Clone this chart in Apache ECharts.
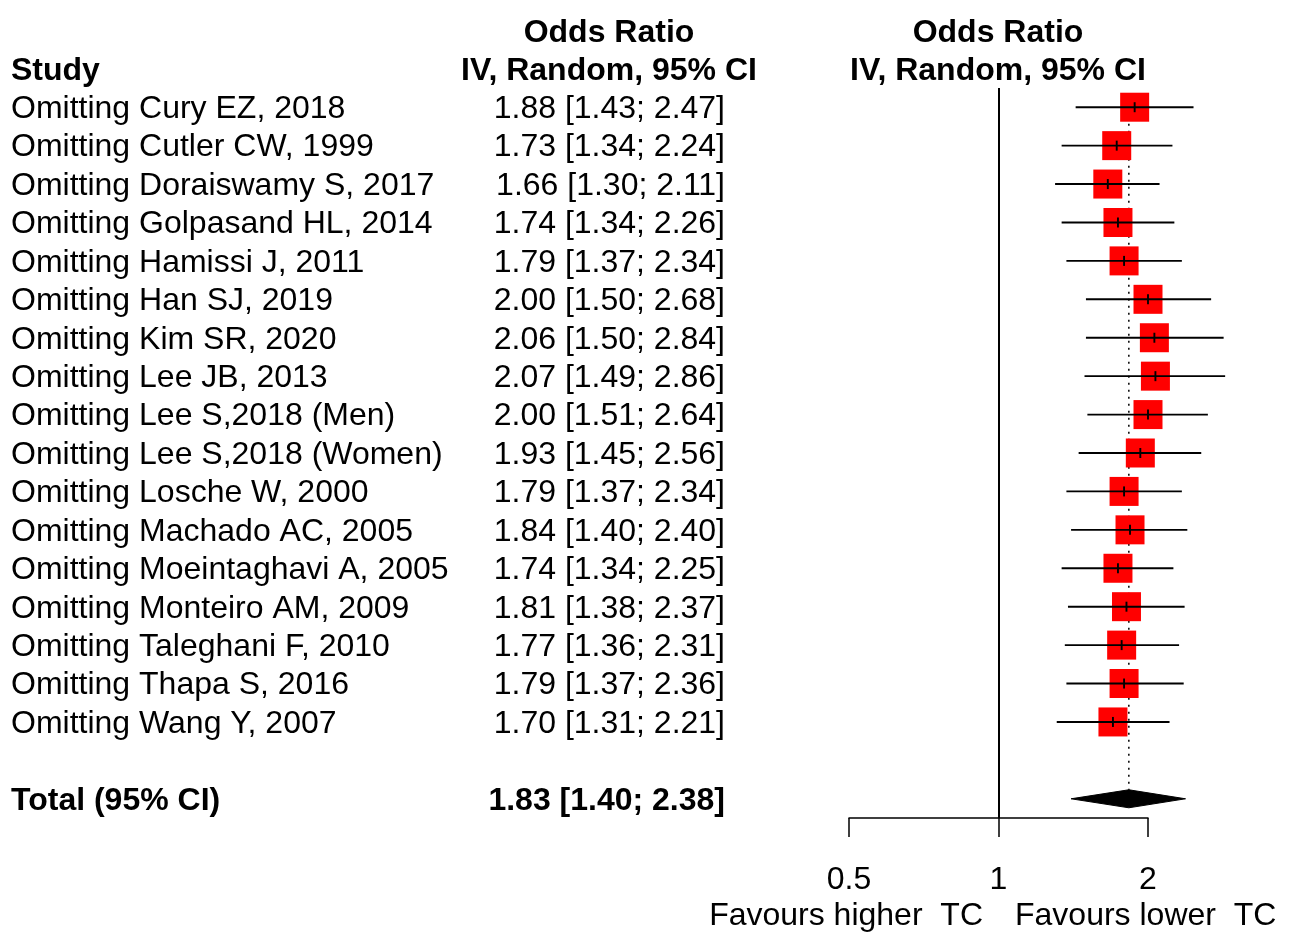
<!DOCTYPE html>
<html>
<head>
<meta charset="utf-8">
<script src="https://cdn.jsdelivr.net/npm/echarts@6/dist/echarts.min.js"></script>
<style>
    html, body { margin: 0; padding: 0; background: #fff; }
    #chart { width: 1289px; height: 934px; }
</style>
</head>
<body>
<div id="chart"></div>
<script>
    // study rows (leave-one-out)
    const studies = [
        'Omitting Cury EZ, 2018',
        'Omitting Cutler CW, 1999',
        'Omitting Doraiswamy S, 2017',
        'Omitting Golpasand HL, 2014',
        'Omitting Hamissi J, 2011',
        'Omitting Han SJ, 2019',
        'Omitting Kim SR, 2020',
        'Omitting Lee JB, 2013',
        'Omitting Lee S,2018 (Men)',
        'Omitting Lee S,2018 (Women)',
        'Omitting Losche W, 2000',
        'Omitting Machado AC, 2005',
        'Omitting Moeintaghavi A, 2005',
        'Omitting Monteiro AM, 2009',
        'Omitting Taleghani F, 2010',
        'Omitting Thapa S, 2016',
        'Omitting Wang Y, 2007'
    ]
    const orValues = [1.88, 1.73, 1.66, 1.74, 1.79, 2.00, 2.06, 2.07, 2.00, 1.93, 1.79, 1.84, 1.74, 1.81, 1.77, 1.79, 1.70]
    const ciLower  = [1.43, 1.34, 1.30, 1.34, 1.37, 1.50, 1.50, 1.49, 1.51, 1.45, 1.37, 1.40, 1.34, 1.38, 1.36, 1.37, 1.31]
    const ciUpper  = [2.47, 2.24, 2.11, 2.26, 2.34, 2.68, 2.84, 2.86, 2.64, 2.56, 2.34, 2.40, 2.25, 2.37, 2.31, 2.36, 2.21]

    const totalLabel = 'Total (95% CI)'
    const totalOR = 1.83
    const totalLower = 1.40
    const totalUpper = 2.38
    const totalRow = 18

    const tickValues = [0.5, 1, 2]

    const FONT = '"Liberation Sans", Arial, Helvetica, sans-serif'
    const fmt = v => v.toFixed(2)

    const rows = studies.map((s, i) => [orValues[i], i, ciLower[i], ciUpper[i], s])
    const textRows = rows.concat([[totalOR, totalRow, totalLower, totalUpper, totalLabel]])

    const chart = echarts.init(document.getElementById('chart'), null, { renderer: 'canvas' })

    const option = {
        backgroundColor: '#fff',
        animation: false,
        grid: {
            left: 849,
            right: 141,
            top: 88,
            height: 730
        },
        xAxis: {
            type: 'log',
            logBase: 2,
            min: 0.5,
            max: 2,
            position: 'bottom',
            axisLine: { show: true, onZero: false, lineStyle: { color: '#000', width: 1.5 } },
            axisTick: { show: true, length: 19, lineStyle: { color: '#000', width: 1.5 } },
            splitLine: { show: false },
            axisLabel: {
                color: '#000',
                fontSize: 32,
                fontFamily: FONT,
                margin: 46,
                formatter: v => {
                    const hit = tickValues.find(t => Math.abs(t - v) < 1e-6)
                    return hit === undefined ? '' : String(hit)
                }
            }
        },
        yAxis: {
            type: 'value',
            inverse: true,
            min: -0.5,
            max: 18.5,
            show: false
        },
        graphic: [
            { type: 'text', style: { text: 'Study', x: 11, y: 71, font: 'bold 32px ' + FONT, fill: '#000', align: 'left', verticalAlign: 'middle' } },
            { type: 'text', style: { text: 'Odds Ratio', x: 609, y: 33, font: 'bold 32px ' + FONT, fill: '#000', align: 'center', verticalAlign: 'middle' } },
            { type: 'text', style: { text: 'IV, Random, 95% CI', x: 609, y: 71, font: 'bold 32px ' + FONT, fill: '#000', align: 'center', verticalAlign: 'middle' } },
            { type: 'text', style: { text: 'Odds Ratio', x: 998, y: 33, font: 'bold 32px ' + FONT, fill: '#000', align: 'center', verticalAlign: 'middle' } },
            { type: 'text', style: { text: 'IV, Random, 95% CI', x: 998, y: 71, font: 'bold 32px ' + FONT, fill: '#000', align: 'center', verticalAlign: 'middle' } },
            { type: 'text', style: { text: 'Favours higher  TC', x: 983, y: 916, font: '32px ' + FONT, fill: '#000', align: 'right', verticalAlign: 'middle' } },
            { type: 'text', style: { text: 'Favours lower  TC', x: 1015, y: 916, font: '32px ' + FONT, fill: '#000', align: 'left', verticalAlign: 'middle' } }
        ],
        series: [
            // pooled estimate: dotted reference line + diamond
            {
                type: 'custom',
                clip: false,
                silent: true,
                data: [[totalOR, totalRow, totalLower, totalUpper]],
                renderItem: (params, api) => {
                    const c = api.coord([api.value(0), api.value(1)])
                    const l = api.coord([api.value(2), api.value(1)])
                    const r = api.coord([api.value(3), api.value(1)])
                    const top = api.coord([api.value(0), -0.3])
                    return {
                        type: 'group',
                        children: [
                            {
                                type: 'line',
                                shape: { x1: c[0], y1: top[1], x2: c[0], y2: c[1] - 9 },
                                style: { stroke: '#000', lineWidth: 1.5, lineDash: [2, 5] }
                            },
                            {
                                type: 'polygon',
                                shape: { points: [[l[0], c[1]], [c[0], c[1] - 9], [r[0], c[1]], [c[0], c[1] + 9]] },
                                style: { fill: '#000', stroke: '#000', lineWidth: 1 }
                            }
                        ]
                    }
                },
                markLine: {
                    silent: true,
                    symbol: ['none', 'none'],
                    label: { show: false },
                    lineStyle: { color: '#000', width: 2, type: 'solid' },
                    data: [{ xAxis: 1 }]
                }
            },
            // study squares with CI whiskers
            {
                type: 'custom',
                clip: false,
                silent: true,
                data: rows,
                renderItem: (params, api) => {
                    const c = api.coord([api.value(0), api.value(1)])
                    const l = api.coord([api.value(2), api.value(1)])
                    const r = api.coord([api.value(3), api.value(1)])
                    const s = 29
                    return {
                        type: 'group',
                        children: [
                            {
                                type: 'rect',
                                shape: { x: c[0] - s / 2, y: c[1] - s / 2, width: s, height: s },
                                style: { fill: '#ff0000' }
                            },
                            {
                                type: 'line',
                                shape: { x1: l[0], y1: c[1], x2: r[0], y2: c[1] },
                                style: { stroke: '#000', lineWidth: 1.9 }
                            },
                            {
                                type: 'line',
                                shape: { x1: c[0], y1: c[1] - 5, x2: c[0], y2: c[1] + 5 },
                                style: { stroke: '#000', lineWidth: 1.9 }
                            }
                        ]
                    }
                }
            },
            // left text columns
            {
                type: 'custom',
                clip: false,
                silent: true,
                data: textRows.map(d => [d[0], d[1]]),
                renderItem: (params, api) => {
                    const d = textRows[params.dataIndex]
                    const bold = d[1] === totalRow
                    const y = api.coord([api.value(0), api.value(1)])[1] + 2
                    const font = (bold ? 'bold ' : '') + '32px ' + FONT
                    return {
                        type: 'group',
                        children: [
                            {
                                type: 'text',
                                x: 11,
                                y: y,
                                style: { text: d[4], font: font, fill: '#000', align: 'left', verticalAlign: 'middle' }
                            },
                            {
                                type: 'text',
                                x: 725,
                                y: y,
                                style: {
                                    text: fmt(d[0]) + ' [' + fmt(d[2]) + '; ' + fmt(d[3]) + ']',
                                    font: font, fill: '#000', align: 'right', verticalAlign: 'middle'
                                }
                            }
                        ]
                    }
                }
            }
        ]
    }

    chart.setOption(option)
</script>
</body>
</html>
